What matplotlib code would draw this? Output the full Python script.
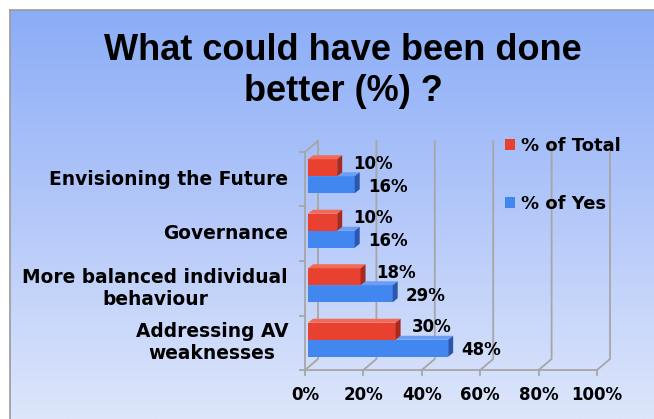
import numpy as np
import matplotlib
matplotlib.use('Agg')
import matplotlib.pyplot as plt
from matplotlib.patches import Polygon, Rectangle, Patch
from matplotlib.lines import Line2D
from matplotlib.colors import LinearSegmentedColormap

# ---- data ----
categories = ["Addressing AV\nweaknesses", "More balanced individual\nbehaviour",
              "Governance", "Envisioning the Future"]
pct_total = [30, 18, 10, 10]
pct_yes = [48, 29, 16, 16]
series_names = ["% of Total", "% of Yes"]
xticks = [0, 20, 40, 60, 80, 100]
xtick_labels = ["0%", "20%", "40%", "60%", "80%", "100%"]
title_lines = ["What could have been done", "better (%) ?"]

W, H = 654, 419
fig = plt.figure(figsize=(W / 100, H / 100), dpi=100)
fig.patch.set_facecolor('white')

# background gradient panel
bg = fig.add_axes([10 / W, 0, (W - 10) / W, (H - 10) / H])
grad = np.linspace(0, 1, 256).reshape(-1, 1)
cmap = LinearSegmentedColormap.from_list('bg', ['#dde6fb', '#b4c8f9', '#8badf7'])
bg.imshow(grad, aspect='auto', cmap=cmap, origin='lower', extent=[0, 1, 0, 1])
bg.set_xlim(0, 1)
bg.set_ylim(0, 1)
bg.axis('off')
fig.add_artist(Line2D([10 / W, 10 / W], [0, (H - 10) / H], color='#9a9a9a', lw=1.2, transform=fig.transFigure))
fig.add_artist(Line2D([10 / W, 1], [(H - 10) / H, (H - 10) / H], color='#9a9a9a', lw=1.2, transform=fig.transFigure))

# title
fnt_title = dict(family='Liberation Sans', weight='bold', size=26)
fig.text(343 / W, 1 - 60 / H, title_lines[0], ha='center', va='baseline', **fnt_title)
fig.text(343 / W, 1 - 101 / H, title_lines[1], ha='center', va='baseline', **fnt_title)

# plot axes
x0p, x1p, ytop, ybot = 305, 597, 152, 370
ax = fig.add_axes([x0p / W, (H - ybot) / H, (x1p - x0p) / W, (ybot - ytop) / H])
ax.set_xlim(0, 100)
ax.set_ylim(0, 4)
ax.axis('off')
xpx = 100 / (x1p - x0p)
ypx = 4 / (ybot - ytop)
dx, dy = 13 * xpx, 11 * ypx
gcol = '#a6a6a6'

# walls / gridlines
for t in xticks:
    ax.plot([t, t + dx, t + dx], [0, dy, 4 + dy], color=gcol, lw=1.3, clip_on=False, zorder=1)
    ax.plot([t, t], [0, -5 * ypx], color=gcol, lw=1.3, clip_on=False, zorder=1)
ax.plot([0, 0], [0, 4], color=gcol, lw=1.3, clip_on=False, zorder=1)
ax.plot([0, dx], [4, 4 + dy], color=gcol, lw=1.3, clip_on=False, zorder=1)
ax.plot([0, 100], [0, 0], color=gcol, lw=1.3, clip_on=False, zorder=1)
for k in range(5):
    ax.plot([-5 * xpx, 0], [k, k], color=gcol, lw=1.3, clip_on=False, zorder=1)

# 3D bars
bx = 3 * xpx
bdx, bdy = 5 * xpx, 4 * ypx
bh = 17 * ypx


def bar3d(v, y0, front, top, side, z):
    x1 = bx + v
    ax.add_patch(Rectangle((bx, y0), v, bh, facecolor=front, edgecolor='none', zorder=z, clip_on=False))
    ax.add_patch(Polygon([(bx, y0 + bh), (x1, y0 + bh), (x1 + bdx, y0 + bh + bdy), (bx + bdx, y0 + bh + bdy)],
                         closed=True, facecolor=top, edgecolor='none', zorder=z, clip_on=False))
    ax.add_patch(Polygon([(x1, y0), (x1 + bdx, y0 + bdy), (x1 + bdx, y0 + bh + bdy), (x1, y0 + bh)],
                         closed=True, facecolor=side, edgecolor='none', zorder=z, clip_on=False))


red = ('#e8412f', '#f26a55', '#a82a1e')
blue = ('#4286f0', '#6a9ef5', '#2a58b0')
fnt_lab = dict(family='DejaVu Sans', weight='bold', size=12)
for i, (vt, vy) in enumerate(zip(pct_total, pct_yes)):
    c = i + 0.5
    yb = c - 14 * ypx
    yr = c + 3 * ypx
    bar3d(vy, yb, *blue, z=3)
    bar3d(vt, yr, *red, z=4)
    ax.annotate(f"{vt}%", xy=(bx + vt, yr + bh / 2), xytext=(16 * 0.72, 4 * 0.72),
                textcoords='offset points', ha='left', va='center', zorder=6, **fnt_lab)
    ax.annotate(f"{vy}%", xy=(bx + vy, yb + bh / 2), xytext=(13 * 0.72, -2 * 0.72),
                textcoords='offset points', ha='left', va='center', zorder=6, **fnt_lab)
    ax.text(-17 * xpx, c, categories[i], ha='right', va='center', multialignment='center',
            family='DejaVu Sans', weight='bold', size=13.4, linespacing=1.2, clip_on=False)

for t, lab in zip(xticks, xtick_labels):
    ax.text(t, -25 * ypx, lab, ha='center', va='center', clip_on=False, **fnt_lab)

# legend
handles = [Patch(facecolor=red[0], edgecolor='none'), Patch(facecolor=blue[0], edgecolor='none')]
fig.legend(handles, series_names, loc='upper left', bbox_to_anchor=(505 / W, 1 - 137 / H),
           frameon=False, handlelength=0.55, handleheight=0.55, handletextpad=0.35,
           labelspacing=2.2, borderaxespad=0, borderpad=0,
           prop=dict(family='DejaVu Sans', weight='bold', size=13))

fig.savefig('out.png', dpi=100)
